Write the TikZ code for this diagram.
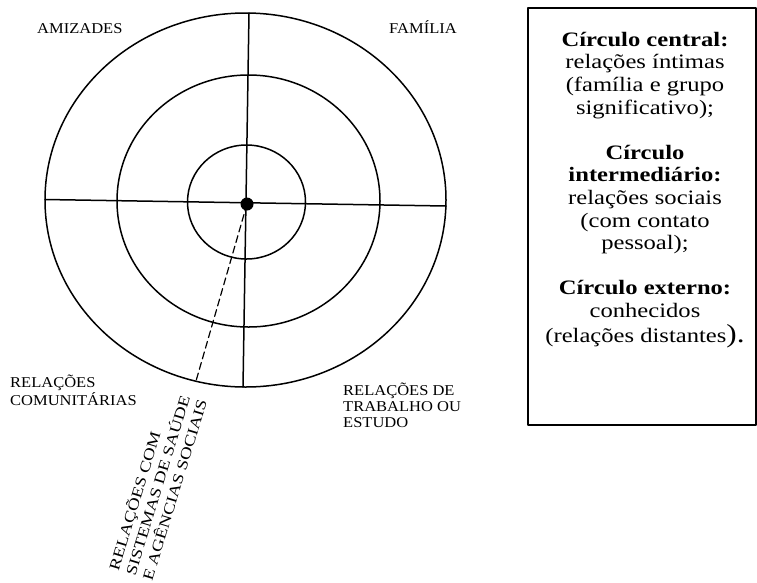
\documentclass[tikz,border=0pt]{standalone}
\usepackage{fontspec}
\setmainfont{Liberation Serif}[FakeStretch=1.2]
\newfontfamily\scanfont{Liberation Serif}[FakeStretch=1.1]
\newfontfamily\scanlong{Liberation Serif}[FakeStretch=1.25]
\begin{document}
\begin{tikzpicture}[x=1pt,y=-1pt,line cap=round,line join=round]
  \useasboundingbox (0,0) rectangle (757,582);
  \tikzset{
    anel/.style={line width=1.5pt},
    rotulo/.style={font=\fontsize{15}{16}\scanfont,inner sep=0pt,align=left},
    legenda/.style={font=\fontsize{20.5}{22.6}\selectfont,inner sep=0pt,align=center}
  }
  % circulos
  \draw[anel] (245.5,200) ellipse [x radius=200.5,y radius=187];
  \draw[anel] (248.5,201) ellipse [x radius=131.5,y radius=126];
  \draw[anel] (246.5,202) ellipse [x radius=59,y radius=57];
  % eixos
  \coordinate (esq) at (45,199.5);
  \coordinate (dir) at (446,206);
  \coordinate (topo) at (249,13);
  \coordinate (baixo) at (243,387);
  \draw[anel] (esq) -- (dir);
  \draw[anel] (topo) -- (baixo);
  \node[circle,fill,inner sep=0pt,minimum size=13pt] (centro) at (247,204) {};
  \coordinate (saude) at (196,381);
  \draw[line width=1.2pt,dash pattern=on 7pt off 4pt] (centro.center) -- (saude);
  % rotulos
  \node[rotulo,anchor=base west] (amizades) at (37,33) {AMIZADES};
  \node[rotulo,anchor=base] (familia) at (423,33) {FAMÍLIA};
  \node[rotulo,anchor=base west] (comunitarias) at (10,405) {RELAÇÕES\\COMUNITÁRIAS};
  \node[rotulo,anchor=base west] (trabalho) at (343,427) {RELAÇÕES DE\\TRABALHO OU\\ESTUDO};
  \node[rotulo,font=\fontsize{15}{17.5}\scanlong,rotate=73,anchor=base west]
    (agencias) at (152,582) {RELAÇÕES COM\\SISTEMAS DE SAÚDE\\E AGÊNCIAS SOCIAIS};
  % quadro
  \draw[line width=1.5pt] (528,8) rectangle (756,425);
  \node[legenda,anchor=base] (texto) at (645,342) {%
    \textbf{Círculo central:}\\relações íntimas\\(família e grupo\\significativo);\\[22.6pt]
    \textbf{Círculo}\\\textbf{intermediário:}\\relações sociais\\(com contato\\pessoal);\\[22.6pt]
    \textbf{Círculo externo:}\\conhecidos\\[2pt](relações distantes{\fontsize{26}{26}\selectfont).}};
\end{tikzpicture}
\end{document}
